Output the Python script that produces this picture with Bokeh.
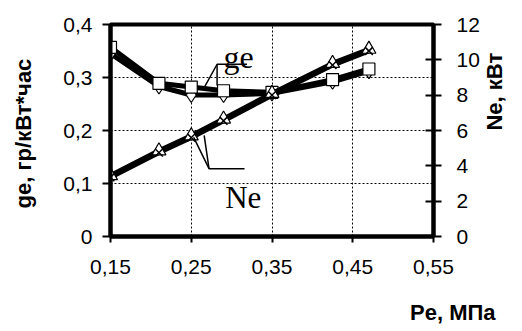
import math
from bokeh.plotting import figure
from bokeh.models import Range1d, LinearAxis, FixedTicker, Title, ColumnDataSource
from bokeh.core.properties import value
from bokeh.embed import file_html
from bokeh.resources import INLINE

# ---- data ----
pe = [0.15, 0.21, 0.25, 0.29, 0.35, 0.425, 0.47]
ge_square = [0.357, 0.289, 0.282, 0.275, 0.272, 0.296, 0.316]
ge_diamond = [0.345, 0.283, 0.267, 0.267, 0.270, 0.292, 0.312]
ne_triangle = [3.45, 4.85, 5.70, 6.65, 8.10, 9.80, 10.60]
ne_cross = [3.35, 4.75, 5.60, 6.55, 8.00, 9.70, 10.50]

x_ticks = [0.15, 0.25, 0.35, 0.45, 0.55]
x_tick_labels = ["0,15", "0,25", "0,35", "0,45", "0,55"]
ge_ticks = [0.0, 0.1, 0.2, 0.3, 0.4]
ge_tick_labels = ["0", "0,1", "0,2", "0,3", "0,4"]
ne_ticks = [0, 2, 4, 6, 8, 10, 12]
ne_tick_labels = ["0", "2", "4", "6", "8", "10", "12"]

# annotation leaders (Pe, ge coordinates)
ge_leader_x = [[0.319, 0.282, 0.266], [0.282, 0.282]]
ge_leader_y = [[0.325, 0.325, 0.281], [0.325, 0.285]]
ne_leader_x = [[0.316, 0.272, 0.253], [0.272, 0.266]]
ne_leader_y = [[0.128, 0.128, 0.187], [0.128, 0.191]]

FONT = "Liberation Sans"

p = figure(width=522, height=331, output_backend="svg", toolbar_location=None,
           x_range=Range1d(0.15, 0.55), y_range=Range1d(0, 0.4),
           min_border_left=110, min_border_right=85, min_border_top=24,
           min_border_bottom=95, background_fill_color="white",
           border_fill_color="white")
p.extra_y_ranges = {"ne": Range1d(0, 12)}

p.outline_line_color = "black"
p.outline_line_width = 4

# grids
p.xgrid.ticker = FixedTicker(ticks=x_ticks[1:-1])
p.ygrid.ticker = FixedTicker(ticks=ge_ticks[1:-1])
for g in (p.xgrid, p.ygrid):
    g.grid_line_color = "black"
    g.grid_line_dash = "2 2"
    g.grid_line_width = 1

def style_axis(ax, ticks, labels, tin, tout, standoff):
    ax.ticker = FixedTicker(ticks=ticks)
    ax.major_label_overrides = {t: l for t, l in zip(ticks, labels)}
    ax.minor_tick_line_color = None
    ax.major_tick_in = tin
    ax.major_tick_out = tout
    ax.major_tick_line_width = 2
    ax.axis_line_width = 4
    ax.major_label_text_font = FONT
    ax.major_label_text_font_size = "21px"
    ax.major_label_text_color = "black"
    ax.major_label_standoff = standoff
    ax.axis_label_text_font = FONT
    ax.axis_label_text_font_style = "bold"
    ax.axis_label_text_font_size = "22px"
    ax.axis_label_text_color = "black"

xa = p.xaxis[0]
style_axis(xa, x_ticks, x_tick_labels, 0, 6, 17)
xa.axis_label = " "
xa.axis_label_text_font_size = "5px"
xa.axis_label_standoff = 12

ya = p.yaxis[0]
style_axis(ya, ge_ticks, ge_tick_labels, 0, 8, 10)
ya.axis_label = "ge,  гр/кВт*час"
ya.axis_label_standoff = 24

ra = LinearAxis(y_range_name="ne")
style_axis(ra, ne_ticks, ne_tick_labels, 8, 8, 15)
ra.axis_label = "Ne,  кВт"
ra.axis_label_standoff = 12
try:
    ra.axis_label_orientation = math.pi / 2
except Exception:
    pass
p.add_layout(ra, "right")

# ge series
src_ge = ColumnDataSource(dict(pe=pe, sq=ge_square, di=ge_diamond))
p.line("pe", "di", source=src_ge, line_color="black", line_width=5)
p.scatter("pe", "di", source=src_ge, marker="diamond", size=15,
          fill_color="white", line_color="black", line_width=1.2)
p.line("pe", "sq", source=src_ge, line_color="black", line_width=5)
p.scatter("pe", "sq", source=src_ge, marker="square", size=12,
          fill_color="white", line_color="black", line_width=1.2)

# Ne series
src_ne = ColumnDataSource(dict(pe=pe, tri=ne_triangle, cr=ne_cross))
p.line("pe", "cr", source=src_ne, line_color="black", line_width=5, y_range_name="ne")
p.line("pe", "tri", source=src_ne, line_color="black", line_width=5, y_range_name="ne")
p.scatter("pe", "tri", source=src_ne, marker="triangle", size=14,
          fill_color="white", line_color="black", line_width=1.2, y_range_name="ne")
p.scatter("pe", "cr", source=src_ne, marker="x", size=11,
          line_color="black", line_width=1.5, y_range_name="ne")

# annotations
p.multi_line(ge_leader_x, ge_leader_y, line_color="black", line_width=1.5)
p.multi_line(ne_leader_x, ne_leader_y, line_color="black", line_width=1.5)
p.text(x=[0.290], y=[0.338], text=["ge"], text_font=value("Liberation Serif"),
       text_font_size="32px", text_color="black", text_baseline="alphabetic")
p.text(x=[0.292], y=[0.074], text=["Ne"], text_font=value("Liberation Serif"),
       text_font_size="31px", text_color="black", text_baseline="alphabetic")

p.add_layout(Title(text="Pe, МПа", align="right", offset=-62, standoff=1,
                   text_font=FONT, text_font_style="bold",
                   text_font_size="22px", text_color="black"), "below")

open("out.html", "w").write(file_html(p, INLINE))
